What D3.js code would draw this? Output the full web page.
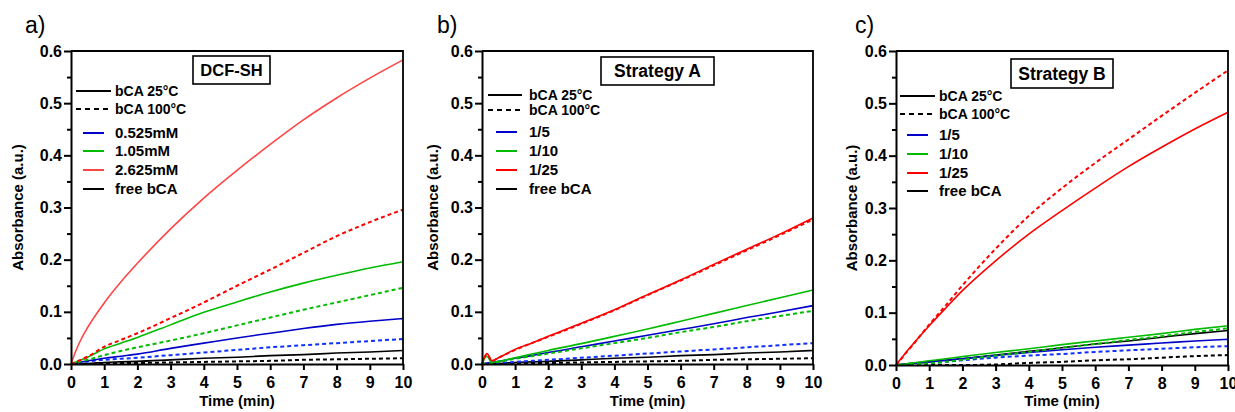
<!DOCTYPE html>
<html>
<head>
<meta charset="utf-8">
<script src="https://cdn.jsdelivr.net/npm/d3@7"></script>
<style>
  body { margin: 0; background: #fff; }
  text { font-family: Arial, "Liberation Sans", sans-serif; }
</style>
</head>
<body>
<svg id="chart" width="1235" height="412"></svg>
<script>
// 时间点 (min)，三张图共用
const time = [0, 0.15, 0.3, 0.5, 1, 1.5, 2, 3, 4, 5, 6, 7, 8, 9, 10];

const xTicks = [0, 1, 2, 3, 4, 5, 6, 7, 8, 9, 10];
const yTicks = [0, 0.1, 0.2, 0.3, 0.4, 0.5, 0.6];
const yMinorTicks = [0.05, 0.15, 0.25, 0.35, 0.45, 0.55];

// 游离 bCA（a、b 图的黑线）
const freeSolidA = [0, 0, 0.001, 0.001, 0.003, 0.004, 0.005, 0.008, 0.011, 0.013, 0.016, 0.018, 0.021, 0.023, 0.026];
const freeDashA = [0, 0, 0, 0, 0.001, 0.002, 0.002, 0.003, 0.004, 0.005, 0.006, 0.008, 0.009, 0.010, 0.011];

// a) DCF-SH
const dcfBlue = [0, 0.002, 0.004, 0.006, 0.011, 0.015, 0.019, 0.030, 0.040, 0.050, 0.059, 0.068, 0.076, 0.082, 0.087];
const dcfBlueDash = [0, 0.002, 0.003, 0.005, 0.008, 0.010, 0.012, 0.017, 0.022, 0.027, 0.032, 0.036, 0.040, 0.044, 0.048];
const dcfGreen = [0, 0.004, 0.008, 0.013, 0.029, 0.040, 0.051, 0.075, 0.099, 0.119, 0.138, 0.155, 0.170, 0.184, 0.196];
const dcfGreenDash = [0, 0.002, 0.005, 0.008, 0.017, 0.025, 0.032, 0.045, 0.059, 0.074, 0.089, 0.104, 0.118, 0.132, 0.146];
const dcfRed = [0, 0.026, 0.047, 0.070, 0.117, 0.157, 0.193, 0.259, 0.318, 0.371, 0.421, 0.468, 0.510, 0.548, 0.583];
const dcfRedDash = [0, 0.004, 0.008, 0.014, 0.033, 0.046, 0.059, 0.088, 0.118, 0.150, 0.181, 0.213, 0.245, 0.272, 0.296];

// b) Strategy A
const saBlue = [0, 0.002, 0.003, 0.005, 0.011, 0.016, 0.022, 0.033, 0.044, 0.055, 0.066, 0.077, 0.089, 0.100, 0.112];
const saBlueDash = [0, 0.001, 0.001, 0.002, 0.004, 0.006, 0.008, 0.012, 0.016, 0.020, 0.024, 0.028, 0.032, 0.036, 0.040];
const saGreen = [0, 0.015, 0.003, 0.005, 0.012, 0.019, 0.026, 0.039, 0.053, 0.067, 0.082, 0.097, 0.112, 0.127, 0.142];
const saGreenDash = [0, 0.001, 0.002, 0.004, 0.010, 0.015, 0.020, 0.030, 0.040, 0.050, 0.061, 0.071, 0.082, 0.092, 0.102];
const saRed = [0, 0.020, 0.006, 0.012, 0.028, 0.040, 0.053, 0.078, 0.104, 0.133, 0.161, 0.191, 0.220, 0.249, 0.280];
const saRedDash = [0, 0.019, 0.006, 0.012, 0.027, 0.040, 0.052, 0.077, 0.103, 0.132, 0.160, 0.189, 0.218, 0.247, 0.277];

// c) Strategy B
const sbBlue = [0, 0.001, 0.002, 0.003, 0.006, 0.009, 0.012, 0.018, 0.024, 0.029, 0.034, 0.038, 0.042, 0.046, 0.049];
const sbBlueDash = [0, 0.001, 0.001, 0.002, 0.004, 0.006, 0.009, 0.014, 0.018, 0.021, 0.025, 0.028, 0.031, 0.034, 0.036];
const sbGreen = [0, 0.001, 0.002, 0.004, 0.008, 0.012, 0.016, 0.024, 0.031, 0.039, 0.046, 0.053, 0.060, 0.068, 0.075];
const sbGreenDash = [0, 0, 0, 0.001, 0.003, 0.006, 0.010, 0.018, 0.025, 0.033, 0.040, 0.048, 0.055, 0.063, 0.070];
const sbRed = [0, 0.012, 0.024, 0.039, 0.075, 0.109, 0.142, 0.199, 0.250, 0.295, 0.338, 0.379, 0.416, 0.451, 0.483];
const sbRedDash = [0, 0.011, 0.023, 0.038, 0.077, 0.114, 0.152, 0.222, 0.285, 0.338, 0.386, 0.431, 0.476, 0.520, 0.563];
const sbFree = [0, 0.001, 0.002, 0.003, 0.006, 0.009, 0.012, 0.019, 0.026, 0.033, 0.040, 0.046, 0.053, 0.060, 0.066];
const sbFreeDash = [0, 0, 0, 0, 0, 0, 0, 0.001, 0.004, 0.006, 0.009, 0.011, 0.014, 0.017, 0.019];

const styleLabels = ["bCA 25°C", "bCA 100°C"];
const labelsA = ["0.525mM", "1.05mM", "2.625mM", "free bCA"];
const labelsB = ["1/5", "1/10", "1/25", "free bCA"];

const BLUE = "#0000c8", BLUE_D = "#1030ff", GREEN = "#00bb00", RED = "#ff0000", RED_LIGHT = "#ff4646";

// 每张图的布局
const panels = [
  {
    tag: "a)", tagX: 25, title: "DCF-SH", box: [193, 56, 77, 28], titleSize: 16.5,
    left: 71, right: 403, top: 51, bottom: 364, yTitleX: 23,
    legend: { lineA: [5, 40], lineB: [12, 33], textX: 44, styleY: [91, 109], rowY: [133, 151, 170, 189] },
    labels: labelsA,
    series: [
      { v: freeDashA, c: "#000", dash: true }, { v: freeSolidA, c: "#000" },
      { v: dcfBlueDash, c: BLUE_D, dash: true }, { v: dcfBlue, c: BLUE },
      { v: dcfGreenDash, c: GREEN, dash: true }, { v: dcfGreen, c: GREEN },
      { v: dcfRedDash, c: RED, dash: true }, { v: dcfRed, c: RED_LIGHT }
    ],
    legendColors: [BLUE, GREEN, RED_LIGHT, "#000"]
  },
  {
    tag: "b)", tagX: 437, title: "Strategy A", box: [601, 57, 113, 28], titleSize: 17.5,
    left: 482, right: 813, top: 51, bottom: 364, yTitleX: 438,
    legend: { lineA: [6, 40], lineB: [14, 35], textX: 47, styleY: [95, 110], rowY: [132, 151, 170, 189] },
    labels: labelsB,
    series: [
      { v: freeDashA, c: "#000", dash: true }, { v: freeSolidA, c: "#000" },
      { v: saBlueDash, c: BLUE_D, dash: true }, { v: saBlue, c: BLUE },
      { v: saGreenDash, c: GREEN, dash: true }, { v: saGreen, c: GREEN },
      { v: saRedDash, c: RED, dash: true }, { v: saRed, c: RED }
    ],
    legendColors: [BLUE, GREEN, RED, "#000"]
  },
  {
    tag: "c)", tagX: 855, title: "Strategy B", box: [1011, 59, 102, 29], titleSize: 17.5,
    left: 896, right: 1228, top: 51, bottom: 365, yTitleX: 857,
    legend: { lineA: [4, 39], lineB: [11, 32], textX: 43, styleY: [96, 114], rowY: [135, 154, 173, 191] },
    labels: labelsB,
    series: [
      { v: sbFreeDash, c: "#000", dash: true }, { v: sbFree, c: "#000" },
      { v: sbBlueDash, c: BLUE_D, dash: true }, { v: sbBlue, c: BLUE },
      { v: sbGreenDash, c: GREEN, dash: true }, { v: sbGreen, c: GREEN },
      { v: sbRedDash, c: RED, dash: true }, { v: sbRed, c: RED }
    ],
    legendColors: [BLUE, GREEN, RED, "#000"]
  }
];

const svg = d3.select("#chart");

panels.forEach(function (p) {
  let x = d3.scaleLinear().domain([0, 10]).range([p.left, p.right]);
  let y = d3.scaleLinear().domain([0, 0.6]).range([p.bottom, p.top]);

  let g = svg.append("g");

  // 面板编号
  g.append("text")
    .attr("x", p.tagX)
    .attr("y", 33)
    .style("font-size", "23px")
    .text(p.tag);

  // 数据曲线
  let line = d3.line()
    .x(function (d, i) { return x(time[i]); })
    .y(function (d) { return y(d); })
    .curve(d3.curveMonotoneX);

  g.selectAll("path.series")
    .data(p.series)
    .enter()
    .append("path")
    .attr("class", "series")
    .attr("d", function (s) { return line(s.v); })
    .style("fill", "none")
    .style("stroke", function (s) { return s.c; })
    .style("stroke-width", function (s) { return s.dash ? 2 : 1.6; })
    .style("stroke-dasharray", function (s) { return s.dash ? "4,3" : null; });

  // 上边框和右边框
  g.append("path")
    .attr("d", `M${p.left},${p.top}H${p.right}V${p.bottom}`)
    .style("fill", "none")
    .style("stroke", "#000")
    .style("stroke-width", 1.8);

  // x 轴
  g.append("g")
    .attr("transform", `translate(0, ${p.bottom})`)
    .call(d3.axisBottom(x).tickValues(xTicks).tickSize(6).tickPadding(7).tickSizeOuter(0));

  // y 轴，带次刻度
  g.append("g")
    .attr("transform", `translate(${p.left}, 0)`)
    .call(d3.axisLeft(y).tickValues(yTicks).tickFormat(d3.format(".1f")).tickSize(7).tickPadding(2).tickSizeOuter(0));

  g.append("g")
    .attr("transform", `translate(${p.left}, 0)`)
    .call(d3.axisLeft(y).tickValues(yMinorTicks).tickFormat("").tickSize(4).tickSizeOuter(0))
    .select(".domain").remove();

  g.selectAll(".domain, .tick line")
    .style("stroke", "#000")
    .style("stroke-width", 2);

  g.selectAll(".tick text")
    .style("font-size", "16px")
    .style("font-weight", "bold")
    .style("fill", "#000")
    .style("font-family", "Arial, 'Liberation Sans', sans-serif");

  // 坐标轴标题
  g.append("text")
    .attr("x", (p.left + p.right) / 2)
    .attr("y", 406)
    .attr("text-anchor", "middle")
    .style("font-size", "15px")
    .style("font-weight", "bold")
    .text("Time (min)");

  g.append("text")
    .attr("transform", `translate(${p.yTitleX}, ${(p.top + p.bottom) / 2}) rotate(-90)`)
    .attr("text-anchor", "middle")
    .style("font-size", "15px")
    .style("font-weight", "bold")
    .text("Absorbance (a.u.)");

  // 标题框
  g.append("rect")
    .attr("x", p.box[0])
    .attr("y", p.box[1])
    .attr("width", p.box[2])
    .attr("height", p.box[3])
    .style("fill", "#fff")
    .style("stroke", "#000")
    .style("stroke-width", 1.6);

  g.append("text")
    .attr("x", p.box[0] + p.box[2] / 2)
    .attr("y", p.box[1] + p.box[3] / 2)
    .attr("dy", "0.36em")
    .attr("text-anchor", "middle")
    .style("font-size", p.titleSize + "px")
    .style("font-weight", "bold")
    .text(p.title);

  // 图例：线型部分
  let lg = p.legend;
  styleLabels.forEach(function (label, i) {
    g.append("line")
      .attr("x1", p.left + lg.lineA[0])
      .attr("x2", p.left + lg.lineA[1])
      .attr("y1", lg.styleY[i])
      .attr("y2", lg.styleY[i])
      .style("stroke", "#000")
      .style("stroke-width", 2)
      .style("stroke-dasharray", i ? "5,4" : null);

    g.append("text")
      .attr("x", p.left + lg.textX)
      .attr("y", lg.styleY[i])
      .attr("dy", "0.36em")
      .style("font-size", "14px")
      .style("font-weight", "bold")
      .text(label);
  });

  // 图例：颜色部分
  p.labels.forEach(function (label, i) {
    g.append("line")
      .attr("x1", p.left + lg.lineB[0])
      .attr("x2", p.left + lg.lineB[1])
      .attr("y1", lg.rowY[i])
      .attr("y2", lg.rowY[i])
      .style("stroke", p.legendColors[i])
      .style("stroke-width", 2);

    g.append("text")
      .attr("x", p.left + lg.textX)
      .attr("y", lg.rowY[i])
      .attr("dy", "0.36em")
      .style("font-size", "15px")
      .style("font-weight", "bold")
      .text(label);
  });
});
</script>
</body>
</html>
